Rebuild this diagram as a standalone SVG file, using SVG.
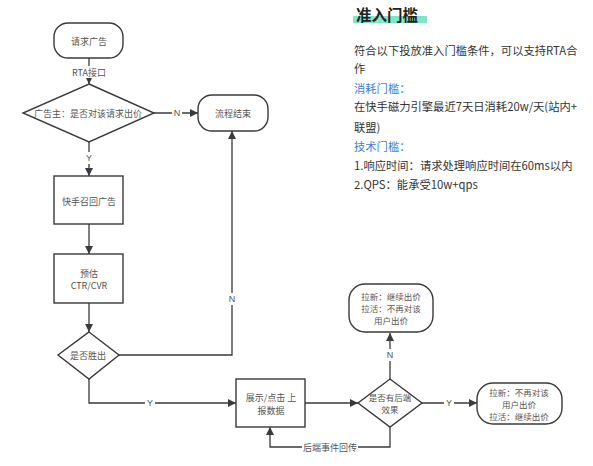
<svg xmlns="http://www.w3.org/2000/svg" width="593" height="466" viewBox="0 0 593 466">
<style>
.shape{fill:#fff;stroke:#3a3a3a;stroke-width:1.4}
.line{fill:none;stroke:#3a3a3a;stroke-width:1.3}
.t{font-family:"Noto Sans CJK SC","Liberation Sans",sans-serif;font-size:9px;fill:#555;text-anchor:middle;dominant-baseline:central}
.s{font-size:8.5px}
.lbl{font-family:"Liberation Sans","Noto Sans CJK SC",sans-serif;font-size:9px;fill:#555;text-anchor:middle;dominant-baseline:central}
.p{font-family:"Noto Sans CJK SC","Liberation Sans",sans-serif;font-size:11.3px;fill:#333;dominant-baseline:central}
.blue{fill:#3a7fd5}
.bg{fill:#fff}
</style>
<defs>
<marker id="arr" viewBox="0 0 10 10" refX="10" refY="5" markerWidth="9" markerHeight="8" markerUnits="userSpaceOnUse" orient="auto">
<path d="M0,0 L10,5 L0,10 z" fill="#3a3a3a"/>
</marker>
</defs>
<rect width="593" height="466" fill="#fff"/>

<g id="connectors">
<path class="line" d="M89,58 L89,84" marker-end="url(#arr)"/>
<path class="line" d="M154,113 L198,113" marker-end="url(#arr)"/>
<path class="line" d="M89,142 L89,176" marker-end="url(#arr)"/>
<path class="line" d="M89,224 L89,254" marker-end="url(#arr)"/>
<path class="line" d="M89,303 L89,332" marker-end="url(#arr)"/>
<path class="line" d="M119,355 L232,355 L232,131" marker-end="url(#arr)"/>
<path class="line" d="M89,379 L89,403 L236,403" marker-end="url(#arr)"/>
<path class="line" d="M305,403 L358,403" marker-end="url(#arr)"/>
<path class="line" d="M390,379 L390,333" marker-end="url(#arr)"/>
<path class="line" d="M422,403 L477,403" marker-end="url(#arr)"/>
<path class="line" d="M390,427 L390,447 L270,447 L270,427" marker-end="url(#arr)"/>
<rect class="bg" x="68" y="66" width="42" height="12"/>
<text class="t" x="89" y="72">RTA接口</text>
<rect class="bg" x="172" y="107" width="10" height="12"/>
<text class="lbl" x="177" y="113">N</text>
<rect class="bg" x="84" y="152" width="10" height="12"/>
<text class="lbl" x="89" y="158">Y</text>
<rect class="bg" x="227" y="293" width="10" height="12"/>
<text class="lbl" x="232" y="299">N</text>
<rect class="bg" x="145" y="397" width="10" height="12"/>
<text class="lbl" x="150" y="403">Y</text>
<rect class="bg" x="385" y="349" width="10" height="12"/>
<text class="lbl" x="390" y="355">N</text>
<rect class="bg" x="444" y="397" width="10" height="12"/>
<text class="lbl" x="449" y="403">Y</text>
<rect class="bg" x="302" y="441" width="56" height="12"/>
<text class="t" x="330" y="447">后端事件回传</text>
</g>

<g id="n-start">
<rect class="shape" x="54" y="23" width="69" height="35" rx="14"/>
<text class="t" x="89" y="41">请求广告</text>
</g>
<g id="n-bid">
<polygon class="shape" points="89,84 154,113 89,142 23,113"/>
<text class="t" x="88" y="113">广告主：是否对该请求出价</text>
</g>
<g id="n-end">
<rect class="shape" x="198" y="95" width="70" height="36" rx="14"/>
<text class="t" x="233" y="113">流程结束</text>
</g>
<g id="n-recall">
<rect class="shape" x="54" y="176" width="69" height="48"/>
<text class="t" x="89" y="201">快手召回广告</text>
</g>
<g id="n-predict">
<rect class="shape" x="54" y="254" width="69" height="49"/>
<text class="t" x="89" y="273">预估</text>
<text class="t" x="89" y="285">CTR/CVR</text>
</g>
<g id="n-win">
<polygon class="shape" points="89,332 119,355 89,379 58,355"/>
<text class="t" x="88" y="355">是否胜出</text>
</g>
<g id="n-report">
<rect class="shape" x="236" y="379" width="69" height="48"/>
<text class="t" x="271" y="397">展示/点击 上</text>
<text class="t" x="271" y="410">报数据</text>
</g>
<g id="n-effect">
<polygon class="shape" points="390,379 422,403 390,427 358,403"/>
<text class="t s" x="390" y="397">是否有后端</text>
<text class="t s" x="390" y="409">效果</text>
</g>
<g id="n-no">
<rect class="shape" x="349" y="284" width="84" height="48" rx="16"/>
<text class="t s" x="391" y="296">拉新：继续出价</text>
<text class="t s" x="391" y="308">拉活：不再对该</text>
<text class="t s" x="391" y="320">用户出价</text>
</g>
<g id="n-yes">
<rect class="shape" x="477" y="383" width="85" height="41" rx="16"/>
<text class="t s" x="519" y="391.5">拉新：不再对该</text>
<text class="t s" x="519" y="403.5">用户出价</text>
<text class="t s" x="519" y="415.5">拉活：继续出价</text>
</g>

<g id="panel">
<rect x="353" y="16" width="74" height="7" fill="#7fe6c6"/>
<text x="356" y="14" font-family="'Noto Sans CJK SC','Liberation Sans',sans-serif" font-size="15.5" font-weight="bold" fill="#222" dominant-baseline="central">准入门槛</text>
<text class="p" x="354" y="50">符合以下投放准入门槛条件，可以支持RTA合</text>
<text class="p" x="354" y="68">作</text>
<text class="p blue" x="354" y="88">消耗门槛：</text>
<text class="p" x="354" y="106">在快手磁力引擎最近7天日消耗20w/天(站内+</text>
<text class="p" x="354" y="127">联盟)</text>
<text class="p blue" x="354" y="146">技术门槛：</text>
<text class="p" x="354" y="165">1.响应时间：请求处理响应时间在60ms以内</text>
<text class="p" x="354" y="184">2.QPS：能承受10w+qps</text>
</g>
</svg>
